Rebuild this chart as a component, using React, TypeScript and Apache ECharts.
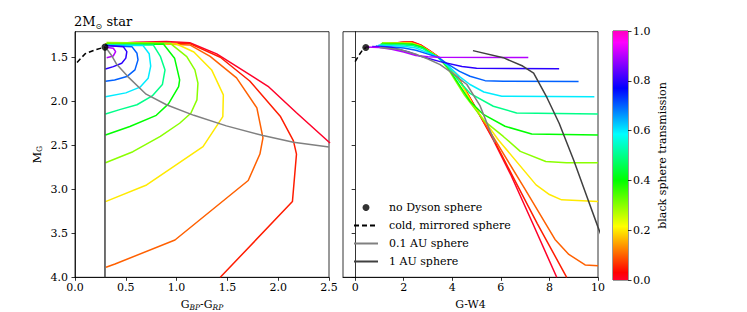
import React, { useEffect, useRef } from "react";
import * as echarts from "echarts";

const FONT = "DejaVu Serif";

// transmission of the black sphere for each coloured curve
const TRANSMISSIONS = [0, 0.05, 0.1, 0.2, 0.3, 0.4, 0.5, 0.6, 0.7, 0.8, 0.9];

// ---- left panel: [G_BP-G_RP, M_G]
const LEFT_T000 = [[0.30, 1.35], [0.6, 1.33], [0.9, 1.322], [1.13, 1.335], [1.395, 1.462], [1.9, 1.83], [2.18, 2.13], [2.51, 2.475]];
const LEFT_T005 = [[0.30, 1.35], [0.7, 1.335], [1.13, 1.345], [1.43, 1.5], [1.72, 1.77], [2.02, 2.17], [2.15, 2.45], [2.18, 2.6], [2.14, 3.14], [1.43, 4.0]];
const LEFT_T010 = [[0.30, 1.35], [0.7, 1.34], [1.13, 1.36], [1.33, 1.49], [1.59, 1.735], [1.79, 2.076], [1.85, 2.417], [1.82, 2.6], [1.705, 2.9], [0.984, 3.576], [0.394, 3.849], [0.305, 3.886]];
const LEFT_T020 = [[0.30, 1.349], [0.7, 1.34], [1.0, 1.35], [1.17, 1.44], [1.345, 1.644], [1.46, 1.928], [1.455, 2.175], [1.26, 2.516], [0.97, 2.743], [0.705, 2.951], [0.30, 3.14]];
const LEFT_T030 = [[0.31, 1.334], [0.935, 1.34], [1.1, 1.493], [1.18, 1.644], [1.21, 1.795], [1.2, 1.985], [1.14, 2.136], [1.03, 2.25], [0.84, 2.4], [0.57, 2.573], [0.30, 2.698]];
const LEFT_T040 = [[0.30, 1.352], [0.87, 1.349], [0.98, 1.511], [1.03, 1.758], [1.02, 1.834], [0.92, 2.03], [0.8, 2.16], [0.54, 2.287], [0.30, 2.383]];
const LEFT_T050 = [[0.30, 1.36], [0.77, 1.36], [0.84, 1.49], [0.886, 1.644], [0.86, 1.81], [0.76, 1.94], [0.61, 2.04], [0.44, 2.095], [0.30, 2.144]];
const LEFT_T060 = [[0.30, 1.364], [0.67, 1.368], [0.73, 1.46], [0.745, 1.6], [0.72, 1.74], [0.64, 1.84], [0.5, 1.905], [0.30, 1.948]];
const LEFT_T070 = [[0.30, 1.368], [0.56, 1.38], [0.61, 1.455], [0.62, 1.53], [0.59, 1.644], [0.51, 1.72], [0.39, 1.758], [0.30, 1.773]];
const LEFT_T080 = [[0.30, 1.368], [0.475, 1.38], [0.51, 1.436], [0.5, 1.51], [0.46, 1.568], [0.377, 1.607], [0.30, 1.633]];
const LEFT_T090 = [[0.302, 1.386], [0.377, 1.398], [0.4, 1.436], [0.377, 1.485], [0.312, 1.505]];
const LEFT_CURVES = [LEFT_T000, LEFT_T005, LEFT_T010, LEFT_T020, LEFT_T030, LEFT_T040, LEFT_T050, LEFT_T060, LEFT_T070, LEFT_T080, LEFT_T090];

const LEFT_STAR = [[0.295, 1.385]];
const LEFT_MIRROR = [[0.02, 1.56], [0.1, 1.46], [0.2, 1.415], [0.295, 1.385]];
const LEFT_AU01 = [[0.3, 1.385], [0.36, 1.48], [0.41, 1.58], [0.52, 1.72], [0.7, 1.92], [0.9, 2.04], [1.17, 2.16], [1.49, 2.28], [1.85, 2.39], [2.15, 2.465], [2.5, 2.52]];
const LEFT_AU1 = [[0.295, 1.385], [0.295, 4.0]];

// ---- right panel: [G-W4, M_G]
const RIGHT_T000 = [[1.5, 1.345], [2.0, 1.328], [2.35, 1.325], [2.7, 1.36], [3.1, 1.43], [3.4, 1.49], [4.18, 1.7], [4.87, 2.03], [5.69, 2.44], [6.4, 2.83], [7.3, 3.38], [8.3, 4.0]];
const RIGHT_T005 = [[1.4, 1.345], [2.0, 1.33], [2.35, 1.328], [2.7, 1.363], [3.1, 1.433], [3.4, 1.492], [4.18, 1.7], [4.87, 2.03], [5.72, 2.44], [6.5, 2.86], [7.5, 3.39], [8.71, 4.0]];
const RIGHT_T010 = [[1.3, 1.345], [2.0, 1.334], [2.3, 1.332], [2.7, 1.368], [3.1, 1.437], [3.4, 1.494], [4.2, 1.71], [4.87, 2.04], [5.76, 2.44], [7.0, 3.0], [8.23, 3.57], [8.8, 3.74], [9.47, 3.86], [10, 3.87]];
const RIGHT_T020 = [[1.2, 1.345], [2.0, 1.338], [2.3, 1.337], [2.7, 1.373], [3.1, 1.44], [3.4, 1.495], [4.2, 1.72], [4.9, 2.06], [5.9, 2.44], [7.45, 2.95], [8.0, 3.06], [8.5, 3.12], [10, 3.14]];
const RIGHT_T030 = [[1.1, 1.335], [2.0, 1.342], [2.3, 1.343], [2.7, 1.378], [3.1, 1.445], [3.4, 1.496], [3.8, 1.62], [4.5, 1.93], [5.3, 2.22], [6.1, 2.4], [6.8, 2.57], [7.85, 2.685], [8.7, 2.698], [10, 2.698]];
const RIGHT_T040 = [[1.05, 1.35], [2.0, 1.35], [2.35, 1.353], [2.8, 1.39], [3.1, 1.45], [3.4, 1.497], [3.8, 1.61], [4.3, 1.82], [4.73, 2.0], [5.28, 2.15], [6.17, 2.284], [7.27, 2.372], [10, 2.383]];
const RIGHT_T050 = [[1.0, 1.36], [2.0, 1.36], [2.4, 1.37], [2.8, 1.405], [3.1, 1.455], [3.4, 1.498], [3.8, 1.6], [4.3, 1.78], [4.73, 1.91], [5.69, 2.057], [6.65, 2.133], [10, 2.144]];
const RIGHT_T060 = [[0.95, 1.365], [2.0, 1.375], [2.5, 1.395], [3.0, 1.45], [3.4, 1.499], [3.8, 1.59], [4.3, 1.72], [4.73, 1.81], [5.3, 1.895], [6.04, 1.943], [9.85, 1.948]];
const RIGHT_T070 = [[0.85, 1.372], [2.0, 1.395], [2.5, 1.42], [3.0, 1.465], [3.4, 1.5], [3.8, 1.575], [4.3, 1.66], [4.73, 1.716], [5.35, 1.766], [6.1, 1.773], [9.2, 1.777]];
const RIGHT_T080 = [[0.7, 1.378], [1.5, 1.39], [2.2, 1.44], [2.7, 1.49], [3.5, 1.55], [4.4, 1.605], [5.0, 1.625], [8.4, 1.632]];
const RIGHT_T090 = [[0.44, 1.385], [1.0, 1.39], [1.5, 1.41], [2.0, 1.44], [2.5, 1.48], [3.0, 1.495], [3.5, 1.5], [7.13, 1.503]];
const RIGHT_CURVES = [RIGHT_T000, RIGHT_T005, RIGHT_T010, RIGHT_T020, RIGHT_T030, RIGHT_T040, RIGHT_T050, RIGHT_T060, RIGHT_T070, RIGHT_T080, RIGHT_T090];

const RIGHT_STAR = [[0.44, 1.39]];
const RIGHT_MIRROR = [[0.0, 1.55], [0.15, 1.48], [0.3, 1.42], [0.44, 1.39]];
const RIGHT_AU01 = [[1.0, 1.39], [1.8, 1.41], [2.54, 1.47], [3.0, 1.52], [3.5, 1.584], [4.0, 1.68], [4.6, 1.81], [5.14, 2.05], [5.5, 2.3], [5.76, 2.47]];
const RIGHT_AU1 = [[4.85, 1.425], [6.1, 1.505], [6.9, 1.6], [7.35, 1.68], [7.9, 1.96], [8.4, 2.25], [9.0, 2.67], [9.5, 3.05], [10.0, 3.43], [10.3, 3.65]];

// ---- axes
const X_LEFT_TICKS = [0, 0.5, 1, 1.5, 2, 2.5];
const X_RIGHT_TICKS = [0, 2, 4, 6, 8, 10];
const Y_TICKS = [1.5, 2, 2.5, 3, 3.5, 4];

// matplotlib gist_rainbow colour map
const GIST_RAINBOW: [number, number[]][] = [
  [0.0, [1, 0, 0.16]],
  [0.03, [1, 0, 0]],
  [0.215, [1, 1, 0]],
  [0.4, [0, 1, 0]],
  [0.586, [0, 1, 1]],
  [0.77, [0, 0, 1]],
  [0.954, [1, 0, 1]],
  [1.0, [1, 0, 0.75]],
];

function toHex(c: number[]) {
  return "#" + c.map((v) => Math.round(v * 255).toString(16).padStart(2, "0")).join("");
}
function cmap(t: number) {
  for (let i = 0; i < GIST_RAINBOW.length - 1; i++) {
    const [t0, c0] = GIST_RAINBOW[i];
    const [t1, c1] = GIST_RAINBOW[i + 1];
    if (t >= t0 && t <= t1) {
      const f = (t - t0) / (t1 - t0);
      return toHex(c0.map((v, k) => v + (c1[k] - v) * f));
    }
  }
  return toHex(GIST_RAINBOW[GIST_RAINBOW.length - 1][1]);
}

const TXT = { fontFamily: FONT, fontSize: 11, color: "#000" };

function buildOption() {
  const tickStyle = { show: true, inside: false, length: 3.5, lineStyle: { color: "#000", width: 0.8 } };
  const lineAxis = { show: true, lineStyle: { color: "#000", width: 0.8 } };
  const GRID_TOP = 31.7;
  const GRID_H = 245.6;

  const series: any[] = [];
  TRANSMISSIONS.forEach((t, i) => {
    series.push({
      type: "line", name: "T" + t + "L", xAxisIndex: 0, yAxisIndex: 0,
      data: LEFT_CURVES[i], symbol: "none", showSymbol: false, silent: true, z: 2,
      lineStyle: { color: cmap(t), width: 1.5 },
    });
    series.push({
      type: "line", name: "T" + t + "R", xAxisIndex: 1, yAxisIndex: 1,
      data: RIGHT_CURVES[i], symbol: "none", showSymbol: false, silent: true, z: 2,
      lineStyle: { color: cmap(t), width: 1.5 },
    });
  });
  const pairs: [string, any[], any[], any][] = [
    ["cold, mirrored sphere", LEFT_MIRROR, RIGHT_MIRROR, { color: "#000", width: 1.5, type: [5, 3] }],
    ["0.1 AU sphere", LEFT_AU01, RIGHT_AU01, { color: "#808080", width: 1.5 }],
    ["1 AU sphere", LEFT_AU1, RIGHT_AU1, { color: "#404040", width: 1.5 }],
  ];
  pairs.forEach(([name, l, r, ls]) => {
    [l, r].forEach((d, k) => {
      series.push({
        type: "line", name, xAxisIndex: k, yAxisIndex: k, data: d,
        symbol: "none", showSymbol: false, silent: true, z: 3, lineStyle: ls,
        itemStyle: { color: ls.color },
      });
    });
  });
  [LEFT_STAR, RIGHT_STAR].forEach((d, k) => {
    series.push({
      type: "scatter", name: "no Dyson sphere", xAxisIndex: k, yAxisIndex: k, data: d,
      symbol: "circle", symbolSize: 7, itemStyle: { color: "#000" }, z: 4, silent: true,
    });
  });
  series.push({
    type: "bar", name: "colorbar", xAxisIndex: 2, yAxisIndex: 2, data: [1],
    barWidth: "100%", silent: true,
    itemStyle: {
      color: new echarts.graphic.LinearGradient(0, 1, 0, 0,
        GIST_RAINBOW.map(([o, c]) => ({ offset: o, color: toHex(c) }))),
    },
  });

  const gridBase = { show: true, borderColor: "#000", borderWidth: 0.8, containLabel: false, outerBoundsMode: "none" };
  const subStyle = { fontFamily: FONT, fontSize: 7.5, color: "#000", lineHeight: 7, verticalAlign: "bottom" };

  return {
    animation: false,
    backgroundColor: "#fff",
    title: {
      text: "2M{sub|⊙} star", left: 74, top: 12, padding: 0,
      textStyle: {
        fontFamily: FONT, fontSize: 13, fontWeight: "normal", color: "#000", lineHeight: 18,
        rich: { sub: { fontFamily: "DejaVu Sans", fontSize: 8, color: "#000", lineHeight: 8, verticalAlign: "bottom" } },
      },
    },
    legend: {
      left: 353, top: 202, orient: "vertical", padding: 0, itemGap: 7,
      itemWidth: 24, itemHeight: 7, selectedMode: false,
      textStyle: { ...TXT, padding: [0, 0, 0, 6] },
      data: [
        { name: "no Dyson sphere", icon: "circle" },
        { name: "cold, mirrored sphere", itemStyle: { opacity: 0 } },
        { name: "0.1 AU sphere", itemStyle: { opacity: 0 } },
        { name: "1 AU sphere", itemStyle: { opacity: 0 } },
      ],
    },
    grid: [
      { ...gridBase, left: 75, top: GRID_TOP, width: 254, height: GRID_H },
      { ...gridBase, left: 343, top: GRID_TOP, width: 255, height: GRID_H },
      { ...gridBase, left: 613, top: 31, width: 15, height: 249 },
    ],
    xAxis: [
      {
        type: "value", gridIndex: 0, min: 0, max: 2.5, interval: 0.5,
        axisLine: lineAxis, axisTick: tickStyle, splitLine: { show: false },
        axisLabel: { ...TXT, margin: 5, formatter: (v: number) => v.toFixed(1), customValues: X_LEFT_TICKS },
        name: "G{sub|BP}-G{sub|RP}", nameLocation: "middle", nameGap: 21,
        nameTextStyle: {
          ...TXT, lineHeight: 13,
          rich: { sub: { ...subStyle, fontStyle: "italic" } },
        },
      },
      {
        type: "value", gridIndex: 1, min: -0.5, max: 10,
        axisLine: lineAxis, splitLine: { show: false },
        axisTick: { ...tickStyle, customValues: X_RIGHT_TICKS },
        axisLabel: { ...TXT, margin: 5, formatter: (v: number) => String(v), customValues: X_RIGHT_TICKS },
        name: "G-W4", nameLocation: "middle", nameGap: 21, nameTextStyle: { ...TXT, lineHeight: 13 },
      },
      { type: "category", gridIndex: 2, data: [""], show: false },
    ],
    yAxis: [
      {
        type: "value", gridIndex: 0, inverse: true, min: 1.21, max: 4.0,
        axisLine: lineAxis, splitLine: { show: false },
        axisTick: { ...tickStyle, customValues: Y_TICKS },
        axisLabel: { ...TXT, margin: 7, formatter: (v: number) => v.toFixed(1), customValues: Y_TICKS },
        name: "M{sub|G}", nameLocation: "middle", nameGap: 31.5, nameRotate: 90,
        nameTextStyle: {
          ...TXT, lineHeight: 13,
          rich: { sub: subStyle },
        },
      },
      {
        type: "value", gridIndex: 1, inverse: true, min: 1.21, max: 4.0,
        axisLine: lineAxis, splitLine: { show: false },
        axisTick: { ...tickStyle, customValues: Y_TICKS },
        axisLabel: { show: false, customValues: Y_TICKS },
      },
      {
        type: "value", gridIndex: 2, position: "right", min: 0, max: 1, interval: 0.2,
        axisLine: { show: false }, splitLine: { show: false },
        axisTick: tickStyle,
        axisLabel: { ...TXT, margin: 5, formatter: (v: number) => v.toFixed(1) },
        name: "black sphere transmission", nameLocation: "middle", nameGap: 29, nameRotate: 90,
        nameTextStyle: { ...TXT },
      },
    ],
    series,
  };
}

export default function App() {
  const ref = useRef<HTMLDivElement>(null);
  useEffect(() => {
    if (!ref.current) return;
    const chart = echarts.init(ref.current, null, { renderer: "svg" });
    chart.setOption(buildOption() as any);
    return () => chart.dispose();
  }, []);
  return (
    <div
      ref={ref}
      style={{ position: "fixed", left: 0, top: 0, width: 747, height: 312, background: "#fff" }}
    />
  );
}
